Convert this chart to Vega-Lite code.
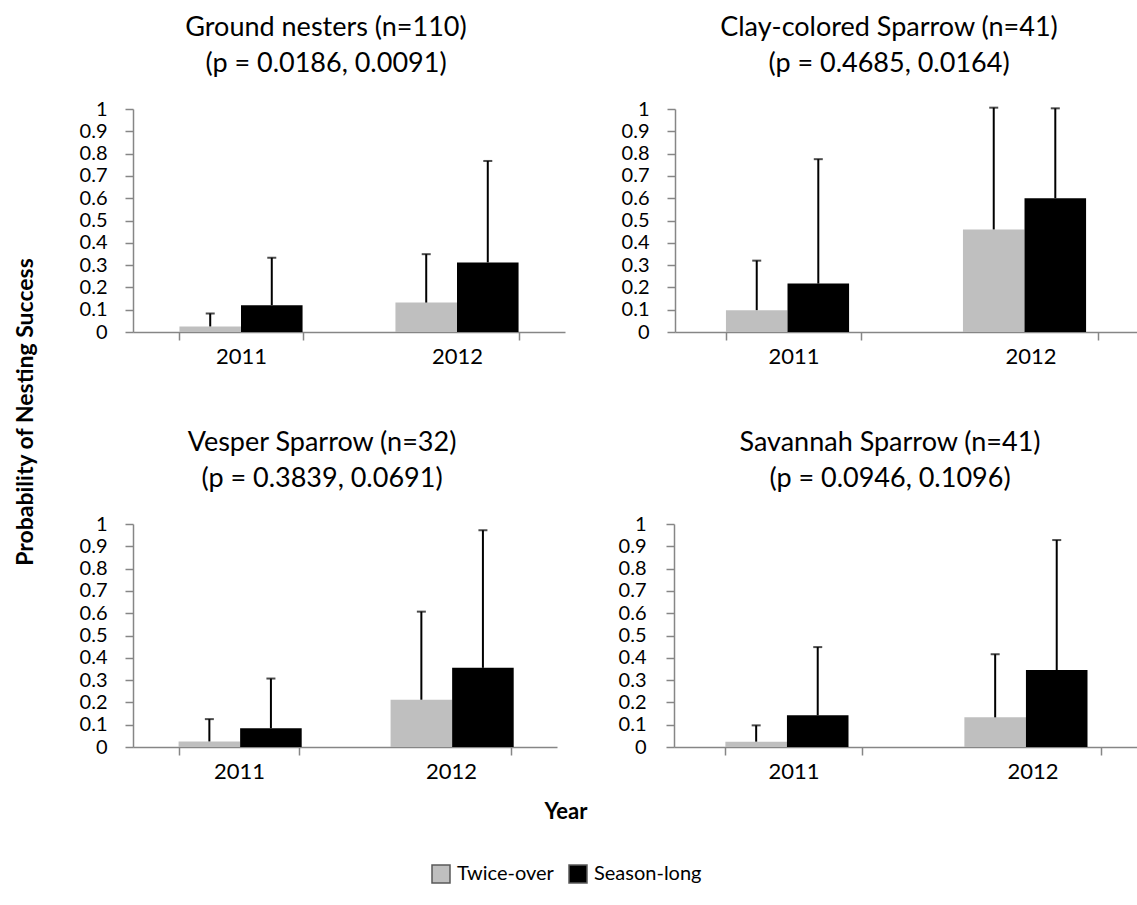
{
  "$schema": "https://vega.github.io/schema/vega-lite/v6.json",
  "background": "white",
  "padding": {"left": 15, "top": 14, "right": 5, "bottom": 5},
  "config": {
    "font": "Lato",
    "view": {"stroke": null},
    "axis": {"domainColor": "#868686", "tickColor": "#868686", "domainWidth": 1.5, "tickWidth": 1.5, "tickSize": 8, "labelColor": "black", "labelFont": "Lato", "labelFontSize": 20, "labelOverlap": false, "grid": false},
    "axisX": {"labelFontSize": 22},
    "title": {"font": "Lato", "fontSize": 27, "fontWeight": "normal", "color": "black"}
  },
  "data": {"values": [
    {"panel": "Ground nesters", "year": "2011", "treatment": "Twice-over", "p": 0.025, "upper": 0.083},
    {"panel": "Ground nesters", "year": "2011", "treatment": "Season-long", "p": 0.12, "upper": 0.333},
    {"panel": "Ground nesters", "year": "2012", "treatment": "Twice-over", "p": 0.132, "upper": 0.349},
    {"panel": "Ground nesters", "year": "2012", "treatment": "Season-long", "p": 0.312, "upper": 0.767},
    {"panel": "Clay-colored Sparrow", "year": "2011", "treatment": "Twice-over", "p": 0.098, "upper": 0.32},
    {"panel": "Clay-colored Sparrow", "year": "2011", "treatment": "Season-long", "p": 0.217, "upper": 0.775},
    {"panel": "Clay-colored Sparrow", "year": "2012", "treatment": "Twice-over", "p": 0.46, "upper": 1.006},
    {"panel": "Clay-colored Sparrow", "year": "2012", "treatment": "Season-long", "p": 0.6, "upper": 1.003},
    {"panel": "Vesper Sparrow", "year": "2011", "treatment": "Twice-over", "p": 0.025, "upper": 0.125},
    {"panel": "Vesper Sparrow", "year": "2011", "treatment": "Season-long", "p": 0.084, "upper": 0.307},
    {"panel": "Vesper Sparrow", "year": "2012", "treatment": "Twice-over", "p": 0.212, "upper": 0.607},
    {"panel": "Vesper Sparrow", "year": "2012", "treatment": "Season-long", "p": 0.355, "upper": 0.972},
    {"panel": "Savannah Sparrow", "year": "2011", "treatment": "Twice-over", "p": 0.024, "upper": 0.097},
    {"panel": "Savannah Sparrow", "year": "2011", "treatment": "Season-long", "p": 0.142, "upper": 0.448},
    {"panel": "Savannah Sparrow", "year": "2012", "treatment": "Twice-over", "p": 0.133, "upper": 0.416},
    {"panel": "Savannah Sparrow", "year": "2012", "treatment": "Season-long", "p": 0.345, "upper": 0.928}
  ]},
  "vconcat": [
    {
      "title": {"text": "Probability of Nesting Success", "orient": "left", "anchor": "middle", "fontSize": 23, "fontWeight": "bold", "offset": 41, "dx": -14},
      "spacing": 62,
      "vconcat": [
        {
          "spacing": 56,
          "hconcat": [
            {
              "width": 432, "height": 223,
              "title": {"text": ["Ground nesters (n=110)", "(p = 0.0186, 0.0091)"], "frame": "group", "anchor": "middle", "lineHeight": 36, "offset": 21, "dx": -23},
              "transform": [{"filter": "datum.panel === 'Ground nesters'"}],
              "encoding": {
                "x": {"field": "year", "type": "nominal", "title": null, "scale": {"paddingInner": 0.43, "paddingOuter": 0.215}, "axis": {"labelAngle": 0, "tickBand": "extent", "labelPadding": 6}},
                "xOffset": {"field": "treatment", "type": "nominal", "sort": ["Twice-over", "Season-long"], "scale": {"paddingInner": 0, "paddingOuter": 0}}
              },
              "layer": [
                {"mark": {"type": "bar"}, "encoding": {
                  "y": {"field": "p", "type": "quantitative", "title": null, "scale": {"domain": [0, 1], "nice": false}, "axis": {"values": [0, 0.1, 0.2, 0.3, 0.4, 0.5, 0.6, 0.7, 0.8, 0.9, 1], "format": ".1~f", "labelPadding": 18}},
                  "color": {"field": "treatment", "type": "nominal", "sort": ["Twice-over", "Season-long"], "scale": {"domain": ["Twice-over", "Season-long"], "range": ["#BFBFBF", "#000000"]},
                    "legend": {"title": "Year", "orient": "none", "legendX": 298, "legendY": 693, "direction": "horizontal", "titleOrient": "top", "titleAnchor": "middle", "titleFontSize": 22, "titleFontWeight": "bold", "titleColor": "black", "titlePadding": 40, "labelFontSize": 20, "labelColor": "black", "symbolType": "square", "symbolSize": 324, "symbolStrokeColor": "#595959", "symbolStrokeWidth": 1.5, "columnPadding": 12, "labelOffset": 6}}
                }},
                {"mark": {"type": "rule", "color": "black", "strokeWidth": 2}, "encoding": {"y": {"field": "p", "type": "quantitative", "title": null, "axis": {"values": [0, 0.1, 0.2, 0.3, 0.4, 0.5, 0.6, 0.7, 0.8, 0.9, 1], "format": ".1~f", "labelPadding": 18}}, "y2": {"field": "upper"}}},
                {"mark": {"type": "tick", "color": "black", "thickness": 2, "size": 9, "orient": "horizontal"}, "encoding": {"y": {"field": "upper", "type": "quantitative", "title": null, "axis": {"values": [0, 0.1, 0.2, 0.3, 0.4, 0.5, 0.6, 0.7, 0.8, 0.9, 1], "format": ".1~f", "labelPadding": 18}}}}
              ]
            },
            {
              "width": 474, "height": 223,
              "title": {"text": ["Clay-colored Sparrow (n=41)", "(p = 0.4685, 0.0164)"], "frame": "group", "anchor": "middle", "lineHeight": 36, "offset": 21, "dx": -23},
              "transform": [{"filter": "datum.panel === 'Clay-colored Sparrow'"}],
              "encoding": {
                "x": {"field": "year", "type": "nominal", "title": null, "scale": {"paddingInner": 0.43, "paddingOuter": 0.215}, "axis": {"labelAngle": 0, "tickBand": "extent", "labelPadding": 6}},
                "xOffset": {"field": "treatment", "type": "nominal", "sort": ["Twice-over", "Season-long"], "scale": {"paddingInner": 0, "paddingOuter": 0}}
              },
              "layer": [
                {"mark": {"type": "bar"}, "encoding": {
                  "y": {"field": "p", "type": "quantitative", "title": null, "scale": {"domain": [0, 1], "nice": false}, "axis": {"values": [0, 0.1, 0.2, 0.3, 0.4, 0.5, 0.6, 0.7, 0.8, 0.9, 1], "format": ".1~f", "labelPadding": 18}},
                  "color": {"field": "treatment", "type": "nominal", "sort": ["Twice-over", "Season-long"]}
                }},
                {"mark": {"type": "rule", "color": "black", "strokeWidth": 2}, "encoding": {"y": {"field": "p", "type": "quantitative", "title": null, "axis": {"values": [0, 0.1, 0.2, 0.3, 0.4, 0.5, 0.6, 0.7, 0.8, 0.9, 1], "format": ".1~f", "labelPadding": 18}}, "y2": {"field": "upper"}}},
                {"mark": {"type": "tick", "color": "black", "thickness": 2, "size": 9, "orient": "horizontal"}, "encoding": {"y": {"field": "upper", "type": "quantitative", "title": null, "axis": {"values": [0, 0.1, 0.2, 0.3, 0.4, 0.5, 0.6, 0.7, 0.8, 0.9, 1], "format": ".1~f", "labelPadding": 18}}}}
              ]
            }
          ]
        },
        {
          "spacing": 61,
          "hconcat": [
            {
              "width": 424, "height": 223,
              "title": {"text": ["Vesper Sparrow (n=32)", "(p = 0.3839, 0.0691)"], "frame": "group", "anchor": "middle", "lineHeight": 36, "offset": 21, "dx": -23},
              "transform": [{"filter": "datum.panel === 'Vesper Sparrow'"}],
              "encoding": {
                "x": {"field": "year", "type": "nominal", "title": null, "scale": {"paddingInner": 0.43, "paddingOuter": 0.215}, "axis": {"labelAngle": 0, "tickBand": "extent", "labelPadding": 6}},
                "xOffset": {"field": "treatment", "type": "nominal", "sort": ["Twice-over", "Season-long"], "scale": {"paddingInner": 0, "paddingOuter": 0}}
              },
              "layer": [
                {"mark": {"type": "bar"}, "encoding": {
                  "y": {"field": "p", "type": "quantitative", "title": null, "scale": {"domain": [0, 1], "nice": false}, "axis": {"values": [0, 0.1, 0.2, 0.3, 0.4, 0.5, 0.6, 0.7, 0.8, 0.9, 1], "format": ".1~f", "labelPadding": 18}},
                  "color": {"field": "treatment", "type": "nominal", "sort": ["Twice-over", "Season-long"]}
                }},
                {"mark": {"type": "rule", "color": "black", "strokeWidth": 2}, "encoding": {"y": {"field": "p", "type": "quantitative", "title": null, "axis": {"values": [0, 0.1, 0.2, 0.3, 0.4, 0.5, 0.6, 0.7, 0.8, 0.9, 1], "format": ".1~f", "labelPadding": 18}}, "y2": {"field": "upper"}}},
                {"mark": {"type": "tick", "color": "black", "thickness": 2, "size": 9, "orient": "horizontal"}, "encoding": {"y": {"field": "upper", "type": "quantitative", "title": null, "axis": {"values": [0, 0.1, 0.2, 0.3, 0.4, 0.5, 0.6, 0.7, 0.8, 0.9, 1], "format": ".1~f", "labelPadding": 18}}}}
              ]
            },
            {
              "width": 478, "height": 223,
              "title": {"text": ["Savannah Sparrow (n=41)", "(p = 0.0946, 0.1096)"], "frame": "group", "anchor": "middle", "lineHeight": 36, "offset": 21, "dx": -23},
              "transform": [{"filter": "datum.panel === 'Savannah Sparrow'"}],
              "encoding": {
                "x": {"field": "year", "type": "nominal", "title": null, "scale": {"paddingInner": 0.43, "paddingOuter": 0.215}, "axis": {"labelAngle": 0, "tickBand": "extent", "labelPadding": 6}},
                "xOffset": {"field": "treatment", "type": "nominal", "sort": ["Twice-over", "Season-long"], "scale": {"paddingInner": 0, "paddingOuter": 0}}
              },
              "layer": [
                {"mark": {"type": "bar"}, "encoding": {
                  "y": {"field": "p", "type": "quantitative", "title": null, "scale": {"domain": [0, 1], "nice": false}, "axis": {"values": [0, 0.1, 0.2, 0.3, 0.4, 0.5, 0.6, 0.7, 0.8, 0.9, 1], "format": ".1~f", "labelPadding": 20}},
                  "color": {"field": "treatment", "type": "nominal", "sort": ["Twice-over", "Season-long"]}
                }},
                {"mark": {"type": "rule", "color": "black", "strokeWidth": 2}, "encoding": {"y": {"field": "p", "type": "quantitative", "title": null, "axis": {"values": [0, 0.1, 0.2, 0.3, 0.4, 0.5, 0.6, 0.7, 0.8, 0.9, 1], "format": ".1~f", "labelPadding": 20}}, "y2": {"field": "upper"}}},
                {"mark": {"type": "tick", "color": "black", "thickness": 2, "size": 9, "orient": "horizontal"}, "encoding": {"y": {"field": "upper", "type": "quantitative", "title": null, "axis": {"values": [0, 0.1, 0.2, 0.3, 0.4, 0.5, 0.6, 0.7, 0.8, 0.9, 1], "format": ".1~f", "labelPadding": 20}}}}
              ]
            }
          ]
        }
      ]
    }
  ]
}
